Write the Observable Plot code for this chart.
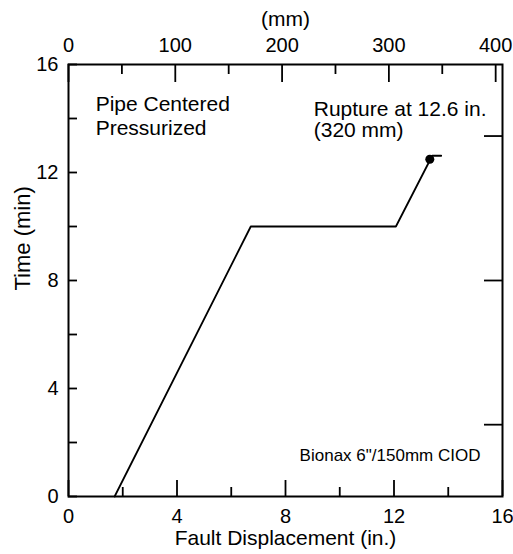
<!DOCTYPE html>
<html>
<head>
<meta charset="utf-8">
<script src="https://cdn.jsdelivr.net/npm/d3@7"></script>
<script src="https://cdn.jsdelivr.net/npm/@observablehq/plot@0.6"></script>
<style>
  html, body { margin: 0; padding: 0; background: #fff; }
  svg { display: block; }
</style>
</head>
<body>
<div id="chart"></div>
<script>
// Series
const dispIn  = [1.70, 6.72, 12.07, 13.41, 13.74];   // fault displacement (in.)
const timeMin = [0, 10, 10, 12.62, 12.62];           // time (min)
const ruptureIn  = [13.32];
const ruptureMin = [12.49];

// Ticks
const xMajor  = [0, 4, 8, 12, 16];
const xMinor  = [2, 6, 10, 14];
const yMajor  = [0, 4, 8, 12, 16];
const yMinor  = [2, 6, 10, 14];
const mmMajor = [0, 100, 200, 300, 400];
const mmMinor = [50, 150, 250, 350];
const rightTicks = [2.66, 8.0, 13.35];

// Text
const xTitle = "Fault Displacement (in.)";
const yTitle = "Time (min)";
const topTitle = "(mm)";
const note1 = "Pipe Centered\nPressurized";
const note2 = "Rupture at 12.6 in.\n(320 mm)";
const note3 = "Bionax 6\"/150mm CIOD";

const W = 513, H = 554;
const mL = 68, mR = 11, mT = 64, mB = 58;
const fw = W - mL - mR, fh = H - mT - mB;
const MM = 25.4;

const line = dispIn.map((x, i) => ({x, y: timeMin[i]}));
const rupture = ruptureIn.map((x, i) => ({x, y: ruptureMin[i]}));
const sw = 1.8;

const chart = Plot.plot({
  width: W, height: H,
  marginLeft: mL, marginRight: mR, marginTop: mT, marginBottom: mB,
  style: {fontFamily: "'Liberation Sans', Arial, sans-serif", color: "black", background: "white"},
  x: {domain: [0, 16]},
  y: {domain: [0, 16]},
  marks: [
    // tick labels
    Plot.axisX(xMajor, {anchor: "bottom", tickSize: 0, tickPadding: 12, fontSize: 20, label: null}),
    Plot.axisX(mmMajor.map(m => m / MM), {anchor: "top", tickSize: 0, tickPadding: 13, fontSize: 20, label: null,
      tickFormat: d => String(Math.round(d * MM))}),
    Plot.axisY(yMajor, {anchor: "left", tickSize: 0, tickPadding: 10, fontSize: 20, label: null}),
    // inward ticks
    Plot.tickX(xMajor, {x: d => d, insetTop: fh - 16, stroke: "black", strokeWidth: sw}),
    Plot.tickX(xMinor, {x: d => d, insetTop: fh - 9, stroke: "black", strokeWidth: sw}),
    Plot.tickX(mmMajor, {x: d => d / MM, insetBottom: fh - 18, stroke: "black", strokeWidth: sw}),
    Plot.tickX(mmMinor, {x: d => d / MM, insetBottom: fh - 10, stroke: "black", strokeWidth: sw}),
    Plot.tickY(yMajor.concat(yMinor), {y: d => d, insetRight: fw - 9, stroke: "black", strokeWidth: sw}),
    Plot.tickY(rightTicks, {y: d => d, insetLeft: fw - 18, stroke: "black", strokeWidth: sw}),
    Plot.frame({stroke: "black", strokeWidth: 2}),
    // data
    Plot.line(line, {x: "x", y: "y", stroke: "black", strokeWidth: 1.8}),
    Plot.dot(rupture, {x: "x", y: "y", r: 4.5, fill: "black"}),
    // titles
    Plot.text([xTitle], {frameAnchor: "bottom", lineAnchor: "bottom", dy: 48, fontSize: 21}),
    Plot.text([topTitle], {frameAnchor: "top", lineAnchor: "bottom", dy: -39, fontSize: 21}),
    Plot.text([yTitle], {frameAnchor: "left", rotate: -90, lineAnchor: "middle", dx: -46, dy: 10, fontSize: 22}),
    // annotations
    Plot.text([note1], {x: 1.0, y: 14.9, textAnchor: "start", lineAnchor: "top", fontSize: 21, lineHeight: 1.14}),
    Plot.text([note2], {x: 9.04, y: 14.64, textAnchor: "start", lineAnchor: "top", fontSize: 21, lineHeight: 1.0}),
    Plot.text([note3], {x: 8.52, y: 1.77, textAnchor: "start", lineAnchor: "top", fontSize: 17})
  ]
});
document.getElementById("chart").appendChild(chart);
</script>
</body>
</html>
